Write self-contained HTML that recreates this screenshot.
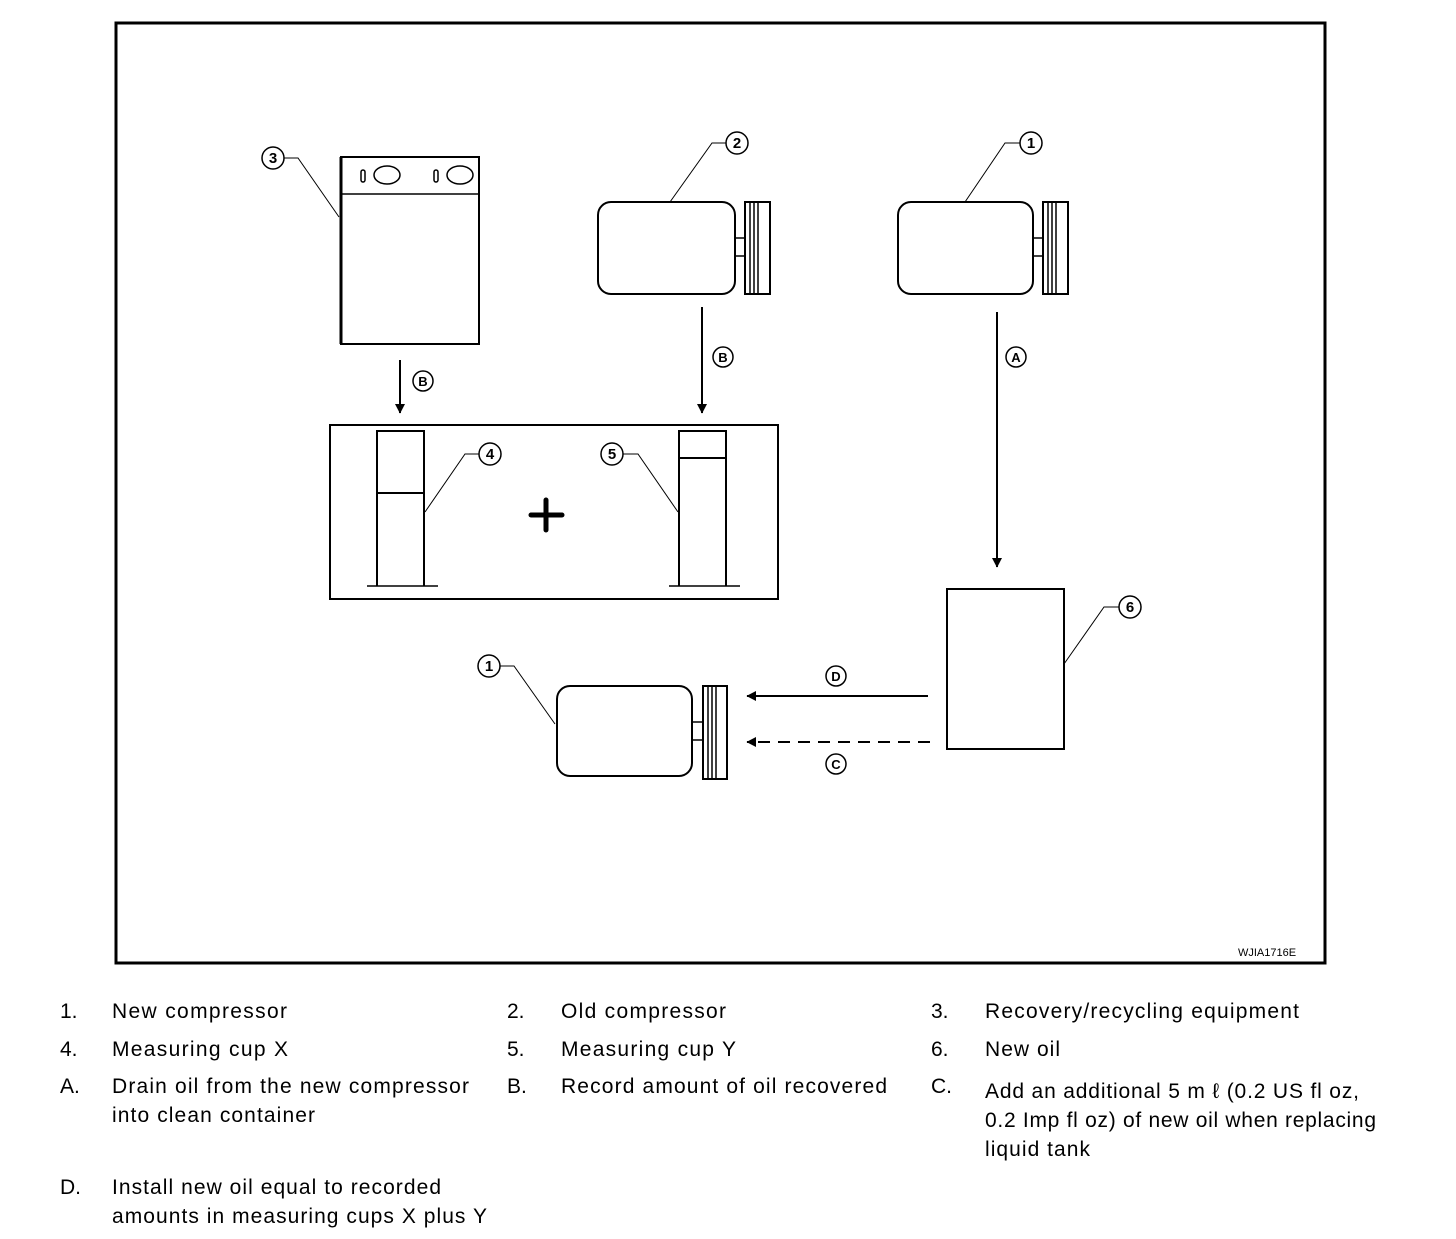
<!DOCTYPE html>
<html><head><style>
body{margin:0;background:#fff;}
svg text{font-family:"Liberation Sans",sans-serif;}
</style></head><body>
<svg width="1456" height="1234" viewBox="0 0 1456 1234" xmlns="http://www.w3.org/2000/svg">
<defs>
<marker id="ah" markerWidth="10" markerHeight="16" refX="9" refY="6" orient="auto" markerUnits="userSpaceOnUse">
<path d="M0,1 L16,6 L0,11 Z" transform="scale(0.6,1)" fill="#000"/>
</marker>
</defs>
<rect x="116" y="23" width="1209" height="940" fill="none" stroke="#000" stroke-width="3"/>
<g fill="none" stroke="#000" stroke-width="1.5">
<rect x="341" y="157" width="138" height="187" stroke-width="2"/>
<line x1="341" y1="157" x2="341" y2="344" stroke-width="3"/>
<line x1="341" y1="194" x2="479" y2="194"/>
<rect x="361" y="170" width="4" height="12" rx="2"/>
<ellipse cx="387" cy="175" rx="13" ry="9"/>
<rect x="434" y="170" width="4" height="12" rx="2"/>
<ellipse cx="460" cy="175" rx="13" ry="9"/>
<circle cx="273" cy="158" r="11"/>
<polyline points="284,158 298,158 339,217" stroke-width="1"/>
<rect x="598" y="202" width="137" height="92" rx="13" stroke-width="2"/>
<rect x="735" y="238" width="10" height="18"/>
<rect x="745" y="202" width="25" height="92" stroke-width="2"/>
<line x1="750" y1="202" x2="750" y2="294"/><line x1="754" y1="202" x2="754" y2="294"/><line x1="758" y1="202" x2="758" y2="294"/>
<circle cx="737" cy="143" r="11"/>
<polyline points="726,143 712,143 670,202" stroke-width="1"/>
<rect x="898" y="202" width="135" height="92" rx="13" stroke-width="2"/>
<rect x="1033" y="238" width="10" height="18"/>
<rect x="1043" y="202" width="25" height="92" stroke-width="2"/>
<line x1="1048" y1="202" x2="1048" y2="294"/><line x1="1052" y1="202" x2="1052" y2="294"/><line x1="1056" y1="202" x2="1056" y2="294"/>
<circle cx="1031" cy="143" r="11"/>
<polyline points="1020,143 1005,143 965,202" stroke-width="1"/>
<line x1="400" y1="360" x2="400" y2="413" stroke-width="2" marker-end="url(#ah)"/>
<circle cx="423" cy="381" r="10"/>
<line x1="702" y1="307" x2="702" y2="413" stroke-width="2" marker-end="url(#ah)"/>
<circle cx="723" cy="357" r="10"/>
<line x1="997" y1="312" x2="997" y2="567" stroke-width="2" marker-end="url(#ah)"/>
<circle cx="1016" cy="357" r="10"/>
<rect x="330" y="425" width="448" height="174" stroke-width="2"/>
<polyline points="377,586 377,431 424,431 424,586" stroke-width="2"/>
<line x1="377" y1="493" x2="424" y2="493" stroke-width="2"/>
<line x1="367" y1="586" x2="438" y2="586"/>
<circle cx="490" cy="454" r="11"/>
<polyline points="479,454 465,454 425,512" stroke-width="1"/>
<polyline points="679,586 679,431 726,431 726,586" stroke-width="2"/>
<line x1="679" y1="458" x2="726" y2="458" stroke-width="2"/>
<line x1="669" y1="586" x2="740" y2="586"/>
<circle cx="612" cy="454" r="11"/>
<polyline points="623,454 638,454 678,512" stroke-width="1"/>
<line x1="531" y1="515" x2="562" y2="515" stroke-width="5" stroke-linecap="round"/>
<line x1="546" y1="500" x2="546" y2="530" stroke-width="5" stroke-linecap="round"/>
<rect x="947" y="589" width="117" height="160" stroke-width="2"/>
<circle cx="1130" cy="607" r="11"/>
<polyline points="1119,607 1104,607 1064,664" stroke-width="1"/>
<rect x="557" y="686" width="135" height="90" rx="13" stroke-width="2"/>
<rect x="692" y="722" width="11" height="18"/>
<rect x="703" y="686" width="24" height="93" stroke-width="2"/>
<line x1="708" y1="686" x2="708" y2="779"/><line x1="712" y1="686" x2="712" y2="779"/><line x1="716" y1="686" x2="716" y2="779"/>
<circle cx="489" cy="666" r="11"/>
<polyline points="500,666 514,666 555,724" stroke-width="1"/>
<line x1="928" y1="696" x2="747" y2="696" stroke-width="2" marker-end="url(#ah)"/>
<circle cx="836" cy="676" r="10"/>
<line x1="930" y1="742" x2="747" y2="742" stroke-width="2" stroke-dasharray="12,8" marker-end="url(#ah)"/>
<circle cx="836" cy="764" r="10"/>
</g>
<g font-size="15" font-weight="bold" text-anchor="middle" fill="#000">
<text x="273" y="163">3</text><text x="737" y="148">2</text><text x="1031" y="148">1</text>
<text x="423" y="386" font-size="13">B</text><text x="723" y="362" font-size="13">B</text><text x="1016" y="362" font-size="13">A</text>
<text x="490" y="459">4</text><text x="612" y="459">5</text><text x="1130" y="612">6</text>
<text x="489" y="671">1</text><text x="836" y="681" font-size="13">D</text><text x="836" y="769" font-size="13">C</text>
</g>
<text x="1267" y="956" font-size="11" text-anchor="middle">WJIA1716E</text>
<g font-size="21" fill="#000" lengthAdjust="spacing">
<text x="60" y="1018">1.</text><text x="112" y="1018" textLength="175">New compressor</text>
<text x="507" y="1018">2.</text><text x="561" y="1018" textLength="165">Old compressor</text>
<text x="931" y="1018">3.</text><text x="985" y="1018" textLength="314">Recovery/recycling equipment</text>
<text x="60" y="1056">4.</text><text x="112" y="1056" textLength="176">Measuring cup X</text>
<text x="507" y="1056">5.</text><text x="561" y="1056" textLength="175">Measuring cup Y</text>
<text x="931" y="1056">6.</text><text x="985" y="1056" textLength="75">New oil</text>
<text x="60" y="1093">A.</text><text x="112" y="1093" textLength="357">Drain oil from the new compressor</text><text x="112" y="1122" textLength="203">into clean container</text>
<text x="507" y="1093">B.</text><text x="561" y="1093" textLength="326">Record amount of oil recovered</text>
<text x="931" y="1093">C.</text><text x="985" y="1098" textLength="374">Add an additional 5 m ℓ  (0.2 US fl oz,</text><text x="985" y="1127" textLength="391">0.2 Imp fl oz) of new oil when replacing</text><text x="985" y="1156" textLength="105">liquid tank</text>
<text x="60" y="1194">D.</text><text x="112" y="1194" textLength="329">Install new oil equal to recorded</text><text x="112" y="1223" textLength="375">amounts in measuring cups X plus Y</text>
</g>
</svg>
</body></html>
